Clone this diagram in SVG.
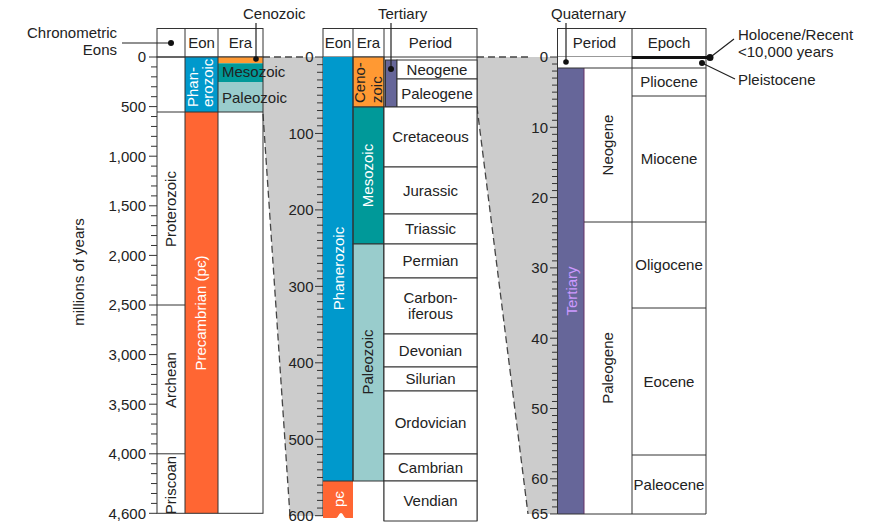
<svg xmlns="http://www.w3.org/2000/svg" width="873" height="524" viewBox="0 0 873 524">
<style>
text{font-family:"Liberation Sans",Arial,sans-serif;font-size:15px;fill:#222}
.c{text-anchor:middle}
.r{text-anchor:end}
.w{fill:#fff}
.tl{fill:#cc99ff}
.box{fill:#fff;stroke:#333;stroke-width:1}
.ol{fill:none;stroke:#333;stroke-width:1}
.tick{stroke:#333;stroke-width:1;fill:none}
.dash{stroke:#444;stroke-width:1.3;stroke-dasharray:7 4;fill:none}
.band{fill:#cccccc}
.lead{stroke:#222;stroke-width:1.2;fill:none}
.dot{fill:#111}
.phan{fill:#0099cc}
.prec{fill:#ff6633}
.ceno{fill:#ff9933}
.meso{fill:#009999}
.paleo{fill:#99cccc}
.tert{fill:#666699}
</style>
<rect x="0" y="0" width="873" height="524" fill="#fff"/>

<g id="zoom-bands">
  <polygon class="band" points="263,57 323,57 323,516 290,516 263,114"/>
  <polygon class="band" points="477,57 557,57 557,514 528,514 477,107"/>
  <path class="dash" d="M263,57 H304 M263,114 L290,516 M477,57 H528 M477,107 L528,514"/>
</g>

<g id="axis-left">
  <text x="84" y="272" class="c" transform="rotate(-90 84 272)">millions of years</text>
  <path class="tick" d="M149,57H157M151,66.92H157M151,76.84H157M151,86.76H157M151,96.68H157M149,106.6H157M151,116.52H157M151,126.44H157M151,136.36H157M151,146.28H157M149,156.2H157M151,166.12H157M151,176.04H157M151,185.96H157M151,195.88H157M149,205.8H157M151,215.72H157M151,225.64H157M151,235.56H157M151,245.48H157M149,255.4H157M151,265.32H157M151,275.24H157M151,285.16H157M151,295.08H157M149,305H157M151,314.92H157M151,324.84H157M151,334.76H157M151,344.68H157M149,354.6H157M151,364.52H157M151,374.44H157M151,384.36H157M151,394.28H157M149,404.2H157M151,414.12H157M151,424.04H157M151,433.96H157M151,443.88H157M149,453.8H157M151,463.72H157M151,473.64H157M151,483.56H157M151,493.48H157M151,503.4H157M149,513.3H157"/>
  <g class="r">
    <text x="146" y="62.3" class="r">0</text>
    <text x="146" y="111.9" class="r">500</text>
    <text x="146" y="161.5" class="r">1,000</text>
    <text x="146" y="211.1" class="r">1,500</text>
    <text x="146" y="260.7" class="r">2,000</text>
    <text x="146" y="310.3" class="r">2,500</text>
    <text x="146" y="359.9" class="r">3,000</text>
    <text x="146" y="409.5" class="r">3,500</text>
    <text x="146" y="459.1" class="r">4,000</text>
    <text x="146" y="518.6" class="r">4,600</text>
  </g>
</g>

<g id="left-column">
  <rect class="box" x="157" y="28.5" width="106" height="28.5"/>
  <path class="ol" d="M185,28.5V57M218,28.5V57"/>
  <text x="201.5" y="48" class="c">Eon</text>
  <text x="240.5" y="48" class="c">Era</text>
  <rect class="phan" x="185" y="57" width="33" height="55"/>
  <rect class="prec" x="185" y="112" width="33" height="401.3"/>
  <rect class="ceno" x="218" y="57" width="45" height="6.3"/>
  <rect class="meso" x="218" y="63.3" width="45" height="18.7"/>
  <rect class="paleo" x="218" y="82" width="45" height="30"/>
  <rect class="ol" x="157" y="57" width="106" height="456.3"/>
  <path class="ol" d="M185,57V513.3M218,57V513.3M157,112H263M157,305H185M157,453.8H185"/>
  <text transform="translate(198 107) rotate(-90)" class="w">Phan-</text>
  <text transform="translate(213 107) rotate(-90)" class="w">erozoic</text>
  <text x="222" y="77">Mesozoic</text>
  <text x="222" y="103">Paleozoic</text>
  <text transform="translate(176 209) rotate(-90)" class="c">Proterozoic</text>
  <text transform="translate(176 380) rotate(-90)" class="c">Archean</text>
  <text transform="translate(176 485) rotate(-90)" class="c">Priscoan</text>
  <text transform="translate(206 313) rotate(-90)" class="c w">Precambrian (pє)</text>
</g>

<g id="axis-middle">
  <path class="tick" d="M315,57H323M317,64.65H323M317,72.29H323M317,79.94H323M317,87.58H323M317,95.23H323M317,102.87H323M317,110.52H323M317,118.16H323M317,125.81H323M315,133.45H323M317,141.1H323M317,148.74H323M317,156.39H323M317,164.03H323M317,171.68H323M317,179.32H323M317,186.97H323M317,194.61H323M317,202.26H323M315,209.9H323M317,217.55H323M317,225.19H323M317,232.84H323M317,240.48H323M317,248.13H323M317,255.77H323M317,263.42H323M317,271.06H323M317,278.71H323M315,286.35H323M317,294H323M317,301.64H323M317,309.29H323M317,316.93H323M317,324.58H323M317,332.22H323M317,339.87H323M317,347.51H323M317,355.16H323M315,362.8H323M317,370.45H323M317,378.09H323M317,385.74H323M317,393.38H323M317,401.03H323M317,408.67H323M317,416.32H323M317,423.96H323M317,431.61H323M315,439.25H323M317,446.9H323M317,454.54H323M317,462.19H323M317,469.83H323M317,477.48H323M317,485.12H323M317,492.77H323M317,500.41H323M317,508.06H323M315,515.7H323M323,57V516"/>
  <text x="313.5" y="62.3" class="r">0</text>
  <text x="313.5" y="138.7" class="r">100</text>
  <text x="313.5" y="215.2" class="r">200</text>
  <text x="313.5" y="291.6" class="r">300</text>
  <text x="313.5" y="368.1" class="r">400</text>
  <text x="313.5" y="444.5" class="r">500</text>
  <text x="313.5" y="521" class="r">600</text>
</g>

<g id="middle-column">
  <rect class="box" x="323" y="28.5" width="154" height="28.5"/>
  <path class="ol" d="M353,28.5V57M384,28.5V57"/>
  <text x="338" y="48" class="c">Eon</text>
  <text x="368.5" y="48" class="c">Era</text>
  <text x="430.5" y="48" class="c">Period</text>
  <rect class="phan" x="323" y="57" width="30" height="424"/>
  <path class="prec" d="M323,481H353V518L346,518C344,518 343,513 341,513C339,513 338,518 336,518L323,518Z"/>
  <path class="ol" d="M323,481H353"/>
  <rect class="ceno" x="353" y="57" width="31" height="50" stroke="#333" stroke-width="1"/>
  <rect class="meso" x="353" y="107" width="31" height="137" stroke="#333" stroke-width="1"/>
  <rect class="paleo" x="353" y="244" width="31" height="237" stroke="#333" stroke-width="1"/>
  <path class="ol" d="M353,57V481M477,57V521M384,57V521"/>
  <rect class="tert" x="385.5" y="60" width="11.5" height="47" stroke="#333" stroke-width="1"/>
  <rect class="box" x="397" y="60" width="80" height="19"/>
  <rect class="box" x="397" y="79" width="80" height="28"/>
  <rect class="box" x="384" y="107" width="93" height="60"/>
  <rect class="box" x="384" y="167" width="93" height="47"/>
  <rect class="box" x="384" y="214" width="93" height="30"/>
  <rect class="box" x="384" y="244" width="93" height="34"/>
  <rect class="box" x="384" y="278" width="93" height="56"/>
  <rect class="box" x="384" y="334" width="93" height="33"/>
  <rect class="box" x="384" y="367" width="93" height="24"/>
  <rect class="box" x="384" y="391" width="93" height="63"/>
  <rect class="box" x="384" y="454" width="93" height="27"/>
  <rect class="box" x="384" y="481" width="93" height="40"/>
  <text transform="translate(344 268.5) rotate(-90)" class="c w">Phanerozoic</text>
  <text transform="translate(344 499) rotate(-90)" class="c w">pє</text>
  <text transform="translate(365 103) rotate(-90)">Ceno-</text>
  <text transform="translate(381.5 103) rotate(-90)">zoic</text>
  <text transform="translate(373 175.5) rotate(-90)" class="c w">Mesozoic</text>
  <text transform="translate(373 362) rotate(-90)" class="c">Paleozoic</text>
  <text x="437" y="74.8" class="c">Neogene</text>
  <text x="437" y="98.5" class="c">Paleogene</text>
  <text x="430.5" y="142.3" class="c">Cretaceous</text>
  <text x="430.5" y="195.8" class="c">Jurassic</text>
  <text x="430.5" y="234.3" class="c">Triassic</text>
  <text x="430.5" y="266.3" class="c">Permian</text>
  <text x="430.5" y="302.5" class="c">Carbon-</text>
  <text x="430.5" y="318.5" class="c">iferous</text>
  <text x="430.5" y="355.8" class="c">Devonian</text>
  <text x="430.5" y="384.3" class="c">Silurian</text>
  <text x="430.5" y="427.8" class="c">Ordovician</text>
  <text x="430.5" y="472.8" class="c">Cambrian</text>
  <text x="430.5" y="506.3" class="c">Vendian</text>
</g>

<g id="axis-right">
  <path class="tick" d="M550,57H557.5M552,64.03H557.5M552,71.06H557.5M552,78.09H557.5M552,85.12H557.5M552,92.15H557.5M552,99.18H557.5M552,106.21H557.5M552,113.24H557.5M552,120.27H557.5M550,127.3H557.5M552,134.33H557.5M552,141.36H557.5M552,148.39H557.5M552,155.42H557.5M552,162.45H557.5M552,169.48H557.5M552,176.51H557.5M552,183.54H557.5M552,190.57H557.5M550,197.6H557.5M552,204.63H557.5M552,211.66H557.5M552,218.69H557.5M552,225.72H557.5M552,232.75H557.5M552,239.78H557.5M552,246.81H557.5M552,253.84H557.5M552,260.87H557.5M550,267.9H557.5M552,274.93H557.5M552,281.96H557.5M552,288.99H557.5M552,296.02H557.5M552,303.05H557.5M552,310.08H557.5M552,317.11H557.5M552,324.14H557.5M552,331.17H557.5M550,338.2H557.5M552,345.23H557.5M552,352.26H557.5M552,359.29H557.5M552,366.32H557.5M552,373.35H557.5M552,380.38H557.5M552,387.41H557.5M552,394.44H557.5M552,401.47H557.5M550,408.5H557.5M552,415.53H557.5M552,422.56H557.5M552,429.59H557.5M552,436.62H557.5M552,443.65H557.5M552,450.68H557.5M552,457.71H557.5M552,464.74H557.5M552,471.77H557.5M550,478.8H557.5M552,485.83H557.5M552,492.86H557.5M552,499.89H557.5M552,506.92H557.5M550,513.95H557.5"/>
  <text x="548" y="62.3" class="r">0</text>
  <text x="548" y="132.6" class="r">10</text>
  <text x="548" y="202.9" class="r">20</text>
  <text x="548" y="273.2" class="r">30</text>
  <text x="548" y="343.5" class="r">40</text>
  <text x="548" y="413.8" class="r">50</text>
  <text x="548" y="484.1" class="r">60</text>
  <text x="548" y="519.3" class="r">65</text>
</g>

<g id="right-column">
  <rect class="box" x="557.5" y="28.5" width="148.5" height="28.5"/>
  <path class="ol" d="M632,28.5V57"/>
  <text x="594.5" y="48" class="c">Period</text>
  <text x="669" y="48" class="c">Epoch</text>
  <rect x="557.5" y="57" width="148.5" height="457" fill="#fff"/>
  <rect class="tert" x="558" y="68" width="26" height="446"/>
  <path d="M584,68V514" stroke="#663366" stroke-width="1"/>
  <path class="ol" d="M557.5,57V514H706V57M632,57V514M557.5,68H706M584,222H706M632,96H706M632,308H706M632,455H706"/>
  <path d="M632,57.5H709" stroke="#111" stroke-width="3"/>
  <text transform="translate(577 291) rotate(-90)" class="c tl">Tertiary</text>
  <text transform="translate(613 145) rotate(-90)" class="c">Neogene</text>
  <text transform="translate(613 368) rotate(-90)" class="c">Paleogene</text>
  <text x="669" y="87.3" class="c">Pliocene</text>
  <text x="669" y="164.3" class="c">Miocene</text>
  <text x="669" y="270.3" class="c">Oligocene</text>
  <text x="669" y="387" class="c">Eocene</text>
  <text x="669" y="490" class="c">Paleocene</text>
</g>

<g id="callout-labels">
  <text x="117" y="37.5" class="r">Chronometric</text>
  <text x="117" y="54.5" class="r">Eons</text>
  <text x="243" y="19">Cenozoic</text>
  <text x="378" y="19">Tertiary</text>
  <text x="551" y="19">Quaternary</text>
  <text x="738" y="40">Holocene/Recent</text>
  <text x="738" y="57">&lt;10,000 years</text>
  <text x="738" y="85">Pleistocene</text>
</g>

<g id="connectors">
  <path class="lead" d="M122,43H171M256,23V59M391,23V69M566,23V62M710,57.5L734,39M702,63L735,79"/>
  <circle class="dot" cx="171" cy="43" r="3"/>
  <circle class="dot" cx="256" cy="59" r="2.8"/>
  <circle class="dot" cx="391" cy="69" r="3"/>
  <circle class="dot" cx="566" cy="62" r="2.8"/>
  <circle class="dot" cx="710" cy="57.5" r="3.5"/>
  <circle class="dot" cx="702" cy="63" r="3"/>
</g>
</svg>
